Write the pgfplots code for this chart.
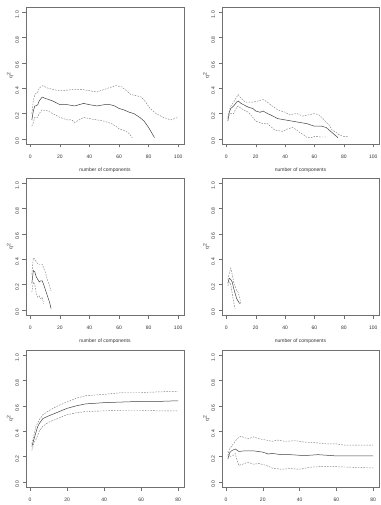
\documentclass[border=0pt]{standalone}
\usepackage{fontspec}
\setmainfont{Liberation Sans}
\usepackage{pgfplots}
\pgfplotsset{compat=1.18}
\definecolor{boxc}{HTML}{707070}
\definecolor{solidc}{HTML}{404040}
\definecolor{dashc}{HTML}{808080}
\pgfplotsset{
  rpanel/.style={
    scale only axis, width=157pt, height=137pt, anchor=north west,
    ymin=-0.04, ymax=1.04,
    ytick={0,0.2,0.4,0.6,0.8,1.0},
    yticklabel style={rotate=90, anchor=south, /pgf/number format/fixed, /pgf/number format/precision=1, /pgf/number format/fixed zerofill},
    /pgf/number format/assume math mode=true,
    tick align=outside, major tick length=3.5pt,
    tick style={boxc, line width=0.4pt},
    axis line style={boxc, line width=0.5pt},
    xtick pos=bottom, ytick pos=left,
    font=\fontsize{5}{6}\selectfont,
    ticklabel style={font=\fontsize{5}{6}\selectfont, text=black!80},
    xtick distance=20,
    ylabel={q\textsuperscript{2}},
    every axis y label/.style={at={(axis description cs:-0.10,0.5)}, rotate=90, anchor=center, font=\fontsize{5}{6}\selectfont, text=black!80},
    every axis x label/.style={at={(axis description cs:0.5,-0.19)}, anchor=center, font=\fontsize{5}{6}\selectfont, text=black!80},
    xticklabel style={yshift=-3.5pt},
    yticklabel style={xshift=-2.5pt},
  },
  toprow/.style={rpanel, xmin=-2.96, xmax=103.96, xlabel={number of components}},
  botrow/.style={rpanel, xmin=-2.16, xmax=83.16},
  sol/.style={solidc, line width=0.5pt, no marks},
  das/.style={dashc, line width=0.45pt, no marks, dash pattern=on 1.6pt off 1.2pt},
}
\begin{document}
\begin{tikzpicture}
\useasboundingbox (0,0) rectangle (380pt,-505pt);
% Top left
\begin{axis}[toprow, at={(26pt,-7pt)}, width=158pt]
\addplot[sol] coordinates {(1,0.15)(2,0.22)(3,0.26)(4,0.26)(5,0.27)(6,0.30)(8,0.33)(10,0.32)(15,0.30)(20,0.27)(25,0.27)(30,0.26)(33,0.27)(36,0.28)(40,0.27)(45,0.26)(50,0.27)(54,0.27)(57,0.26)(60,0.24)(63,0.23)(67,0.21)(70,0.20)(74,0.17)(77,0.14)(80,0.09)(82,0.05)(84,0.01)};
\addplot[das] coordinates {(1,0.20)(2,0.30)(3,0.35)(5,0.37)(6,0.40)(8,0.42)(12,0.40)(15,0.39)(20,0.38)(25,0.385)(30,0.39)(35,0.39)(40,0.38)(45,0.37)(50,0.39)(55,0.41)(58,0.42)(62,0.41)(65,0.38)(68,0.35)(72,0.34)(75,0.33)(78,0.29)(81,0.24)(85,0.20)(90,0.17)(95,0.15)(100,0.17)};
\addplot[das] coordinates {(1,0.10)(2,0.13)(3,0.17)(5,0.17)(6,0.20)(8,0.23)(12,0.22)(15,0.20)(20,0.17)(25,0.15)(28,0.15)(30,0.13)(33,0.15)(36,0.17)(40,0.16)(45,0.15)(50,0.14)(55,0.12)(58,0.10)(60,0.08)(65,0.06)(67,0.04)(69,0.01)};
\end{axis}
% Top right
\begin{axis}[toprow, at={(222pt,-7pt)}]
\addplot[sol] coordinates {(1,0.14)(2,0.21)(3,0.24)(5,0.26)(7,0.29)(8,0.30)(10,0.28)(15,0.25)(18,0.24)(20,0.22)(23,0.21)(25,0.22)(28,0.20)(30,0.19)(35,0.16)(40,0.15)(45,0.14)(50,0.13)(55,0.12)(60,0.10)(65,0.10)(68,0.09)(70,0.07)(73,0.04)(76,0.01)};
\addplot[das] coordinates {(1,0.17)(2,0.22)(3,0.26)(5,0.29)(7,0.33)(8,0.35)(10,0.32)(13,0.29)(18,0.29)(22,0.30)(25,0.31)(28,0.29)(30,0.27)(35,0.23)(40,0.21)(43,0.19)(48,0.20)(52,0.18)(56,0.19)(60,0.20)(63,0.19)(65,0.17)(68,0.13)(70,0.11)(72,0.07)(75,0.05)(77,0.03)(80,0.02)(83,0.02)};
\addplot[das] coordinates {(1,0.16)(2,0.19)(3,0.20)(5,0.20)(7,0.25)(8,0.26)(10,0.24)(15,0.21)(18,0.17)(20,0.14)(25,0.12)(28,0.12)(30,0.10)(33,0.07)(38,0.06)(42,0.08)(45,0.09)(48,0.07)(50,0.05)(53,0.03)(55,0.01)(58,0.01)(60,0.02)(65,0.015)(69,0.015)};
\end{axis}
% Middle left
\begin{axis}[toprow, at={(26pt,-178pt)}, width=158pt]
\addplot[sol] coordinates {(1,0.21)(2,0.31)(3,0.30)(4,0.26)(5,0.24)(6,0.22)(7,0.23)(8,0.23)(9,0.20)(11,0.13)(13,0.06)(14,0.01)};
\addplot[das] coordinates {(1,0.28)(2,0.41)(3,0.40)(4,0.38)(5,0.36)(7,0.36)(8,0.36)(9,0.33)(10,0.30)(12,0.22)(14,0.15)};
\addplot[das] coordinates {(1,0.14)(2,0.22)(3,0.20)(4,0.13)(5,0.10)(6,0.11)(7,0.09)(8,0.10)(9,0.05)};
\end{axis}
% Middle right
\begin{axis}[toprow, at={(222pt,-178pt)}]
\addplot[sol] coordinates {(1,0.21)(2,0.25)(3,0.24)(4,0.22)(5,0.17)(6,0.13)(7,0.09)(8,0.07)(9,0.05)};
\addplot[das] coordinates {(1,0.24)(2,0.29)(3,0.33)(4,0.28)(5,0.22)(6,0.19)(7,0.15)(8,0.14)(9,0.10)(10,0.04)};
\addplot[das] coordinates {(1,0.19)(2,0.22)(3,0.20)(4,0.13)(5,0.06)(6,0.01)};
\end{axis}
% Bottom left
\begin{axis}[botrow, at={(26pt,-350pt)}, width=158pt]
\addplot[sol] coordinates {(1,0.28)(2,0.33)(3,0.38)(4,0.43)(5,0.46)(7,0.50)(10,0.52)(15,0.55)(20,0.58)(25,0.60)(30,0.615)(40,0.625)(50,0.63)(60,0.635)(70,0.635)(80,0.64)};
\addplot[das] coordinates {(1,0.30)(2,0.36)(3,0.43)(5,0.49)(7,0.53)(10,0.56)(15,0.60)(20,0.63)(25,0.66)(30,0.68)(40,0.69)(50,0.705)(60,0.705)(70,0.71)(80,0.715)};
\addplot[das] coordinates {(1,0.25)(2,0.30)(3,0.33)(4,0.36)(5,0.40)(7,0.44)(10,0.47)(15,0.50)(20,0.53)(25,0.545)(30,0.555)(40,0.56)(50,0.565)(60,0.565)(70,0.56)(80,0.56)};
\end{axis}
% Bottom right
\begin{axis}[botrow, at={(222pt,-350pt)}]
\addplot[sol] coordinates {(1,0.18)(2,0.23)(3,0.245)(5,0.26)(7,0.24)(10,0.245)(15,0.245)(20,0.235)(23,0.22)(25,0.225)(30,0.215)(35,0.215)(40,0.21)(45,0.21)(50,0.215)(55,0.21)(60,0.205)(70,0.205)(80,0.205)};
\addplot[das] coordinates {(1,0.21)(2,0.26)(4,0.30)(6,0.34)(8,0.36)(10,0.35)(12,0.34)(15,0.355)(18,0.34)(22,0.33)(25,0.32)(28,0.33)(32,0.32)(38,0.325)(42,0.315)(48,0.31)(55,0.30)(60,0.30)(64,0.29)(70,0.29)(80,0.29)};
\addplot[das] coordinates {(1,0.24)(2,0.20)(4,0.21)(5,0.225)(6,0.17)(7,0.13)(9,0.14)(12,0.155)(15,0.14)(18,0.145)(22,0.13)(25,0.11)(30,0.10)(35,0.105)(40,0.10)(45,0.115)(50,0.12)(60,0.12)(70,0.115)(80,0.11)};
\end{axis}
\end{tikzpicture}
\end{document}
